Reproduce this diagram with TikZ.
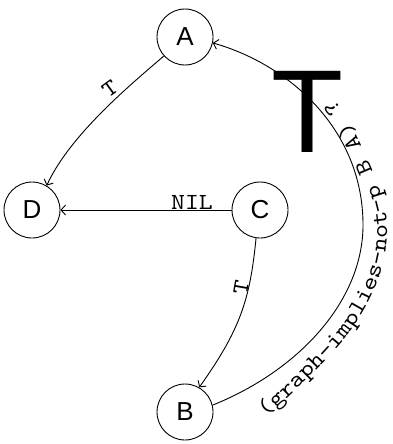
\documentclass[tikz,border=0pt]{standalone}
\usepackage{fontspec}
\setmainfont{Liberation Sans}
\newfontfamily\edgefont{lmmono10-regular.otf}[FakeStretch=1.15]
\usetikzlibrary{arrows.meta,decorations.text}

\tikzset{
  state/.style={circle, draw, line width=0.9pt, minimum size=56pt, inner sep=0pt,
                font=\fontsize{26}{26}\selectfont},
  edge/.style={line width=0.9pt, -{Straight Barb[length=4.5pt,width=10pt,line width=0.9pt]}},
  elabel/.style={font=\edgefont\fontsize{23}{23}\selectfont, inner sep=0pt, anchor=base},
  bigT/.style={font=\fontsize{118}{118}\selectfont, inner sep=0pt, anchor=base}
}

\begin{document}
\begin{tikzpicture}[x=1pt,y=-1pt]
  \useasboundingbox (0,0) rectangle (393,444);

  % states
  \node[state] (A) at (185,37)  {A};
  \node[state] (D) at (32,210)  {D};
  \node[state] (C) at (260,210) {C};
  \node[state] (B) at (185,412) {B};

  % transitions
  \draw[edge] (A.222) .. controls (130,85) and (70,135) .. (D.59);
  \draw[edge] (C.180) -- (D.0);
  \draw[edge] (C.262) .. controls (250,300) and (240,330) .. (B.60);
  \draw[edge] (B.14) .. controls (300,370) and (363,300) .. (363,225)
                     .. controls (363,130) and (290,65) .. (A.-12);

  % label of the B -> A transition, set along its own baseline outside the arc
  \coordinate (lb0) at (265.5,418);
  \coordinate (lb1) at (358,320);
  \coordinate (lb2) at (387,225);
  \coordinate (lb3) at (351,124);
  \coordinate (lb4) at (312,82);
  \path[decorate, decoration={text along path,
        text={|\edgefont\fontsize{23}{23}\selectfont|(graph-implies-not-p B A) ?}}]
    (lb0) .. controls (295.5,390) and (337.75,352.2) .. (lb1)
          .. controls (378.25,287.8) and (388.2,257.7) .. (lb2)
          .. controls (385.8,192.3) and (361.5,145.8) .. (lb3)
          .. controls (338,100) and (325,90) .. (lb4);

  % transition labels
  \node[elabel, rotate=36] (tAD) at (114,94) {T};
  \node[elabel] (nil) at (192,209) {NIL};
  \node[elabel, rotate=80] (tCB) at (248,289) {T};

  % large T over the upper arc
  \node[bigT] (big) at (308,152) {T};
\end{tikzpicture}
\end{document}
